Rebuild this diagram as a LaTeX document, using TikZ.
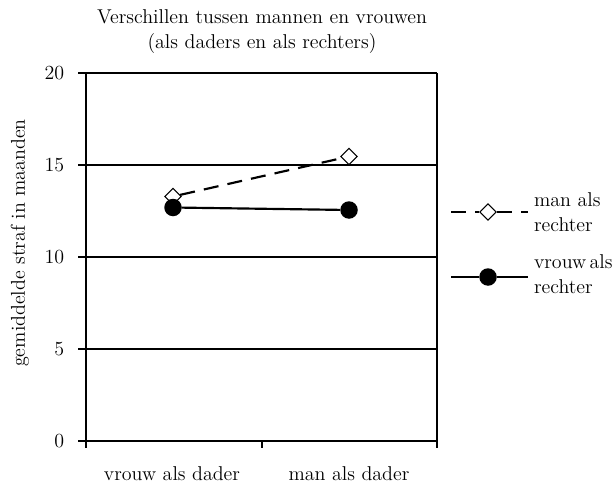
\documentclass[tikz,border=0pt]{standalone}
\usepackage{tikz}
\usetikzlibrary{shapes.geometric}

\tikzset{
  gridline/.style={line width=0.7pt},
  mandiamond/.style={draw, diamond, fill=white, inner sep=0pt,
    minimum width=10pt, minimum height=10pt, line width=0.7pt},
  vrouwdot/.style={circle, fill=black, inner sep=0pt, minimum size=10.5pt},
  manline/.style={line width=1.3pt, dash pattern=on 9pt off 5.5pt},
  vrouwline/.style={line width=1.3pt},
}

\begin{document}
\begin{tikzpicture}[x=0.6pt,y=-0.6pt,font=\fontsize{12}{15}\selectfont]
\useasboundingbox (0,0) rectangle (612,487);

% Title
\node[align=center] (title) at (262,32) {Verschillen tussen mannen en vrouwen\\(als daders en als rechters)};

% Grid and axes
\foreach \v in {5,10,15,20} {
  \draw[gridline] (78,441-18.4*\v) -- (437,441-18.4*\v);
}
\draw[gridline] (437,73) -- (437,448);
\draw[gridline] (86,73) -- (86,448);
\draw[gridline] (78,441) -- (437,441);
\draw[gridline] (262,441) -- (262,448);

% Tick labels
\foreach \v in {0,5,10,15,20} {
  \node[anchor=east] (y\v) at (70,441-18.4*\v) {\v};
}
\node[rotate=90] (ylabel) at (20,243) {gemiddelde straf in maanden};
\node (xvrouw) at (172,474) {vrouw als dader};
\node (xman) at (349,474) {man als dader};

% Data: man als rechter
\node[mandiamond] (m1) at (173,196.5) {};
\node[mandiamond] (m2) at (349,156.5) {};
\draw[manline] (m1) -- (m2);

% Data: vrouw als rechter
\node[vrouwdot] (v1) at (173,207.5) {};
\node[vrouwdot] (v2) at (349,210) {};
\draw[vrouwline] (v1) -- (v2);

% Legend
\coordinate (lm1) at (451,212);
\coordinate (lm2) at (528,212);
\node[mandiamond] (lmd) at (488,212) {};
\draw[manline] (lm1) -- (lmd);
\draw[manline] (lmd) -- (lm2);
\node[anchor=west, align=left, inner sep=1pt] (lmtext) at (532,212) {man als\\rechter};

\coordinate (lv1) at (451,277);
\coordinate (lv2) at (528,277);
\node[vrouwdot] (lvd) at (488,277) {};
\draw[vrouwline] (lv1) -- (lvd);
\draw[vrouwline] (lvd) -- (lv2);
\node[anchor=west, align=left, inner sep=1pt] (lvtext) at (532,274) {vrouw\,als\\rechter};
\end{tikzpicture}
\end{document}
